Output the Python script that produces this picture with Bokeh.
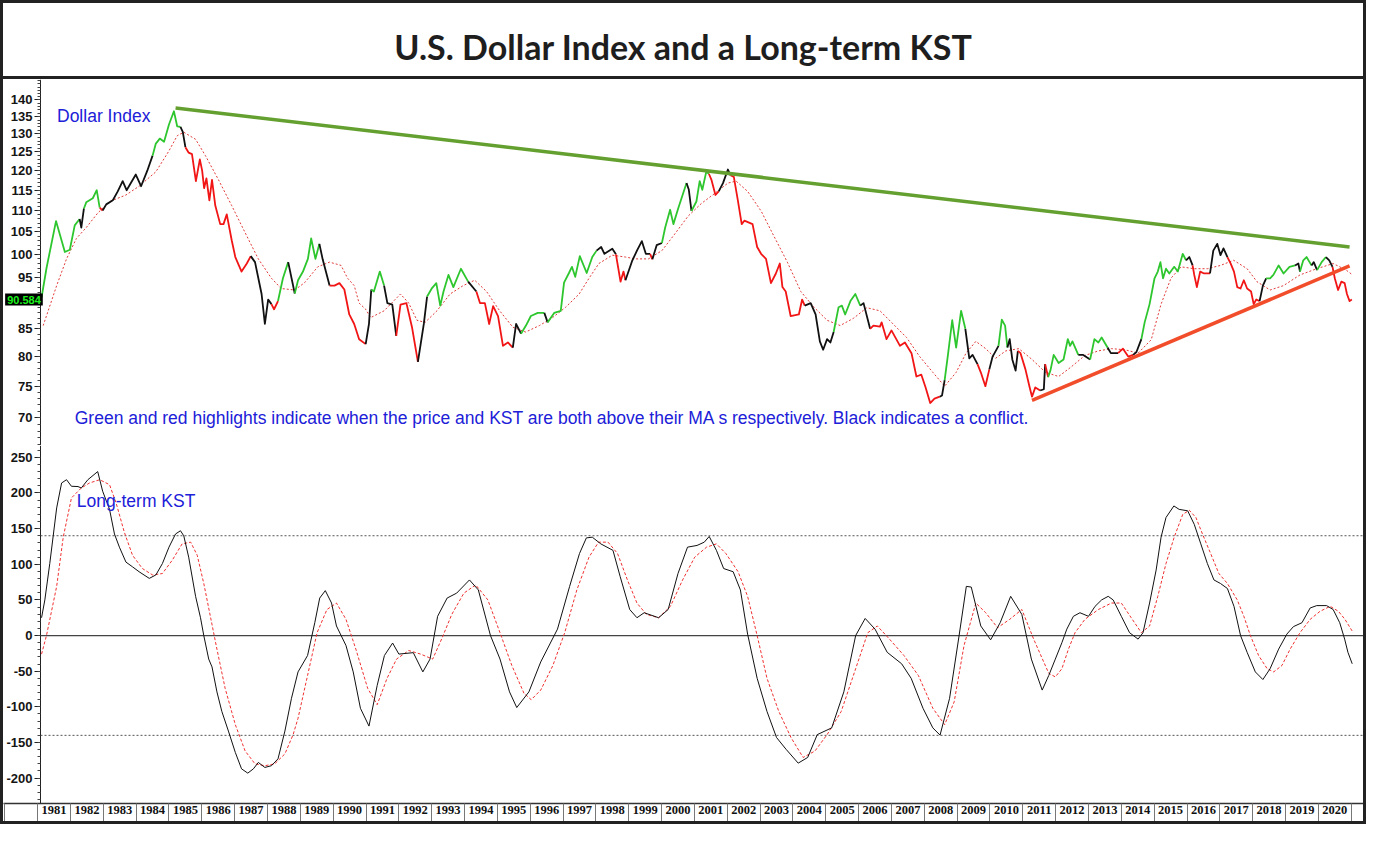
from bokeh.plotting import figure
from bokeh.layouts import column
from bokeh.models import (Range1d, FixedTicker, PrintfTickFormatter, Label,
                          ColumnDataSource)
from bokeh.embed import file_html
from bokeh.resources import INLINE

# ---------------- data ----------------
usd_t = [1981.12, 1981.27, 1981.56, 1981.83, 1981.98, 1982.13, 1982.28, 1982.33, 1982.41, 1982.48,
         1982.68, 1982.80, 1982.89, 1982.98, 1983.09, 1983.29, 1983.44, 1983.59, 1983.71, 1983.99,
         1984.15, 1984.34, 1984.50, 1984.60, 1984.72, 1984.85, 1985.00, 1985.15, 1985.25, 1985.35,
         1985.42, 1985.50, 1985.60, 1985.70, 1985.82, 1985.94, 1986.01, 1986.07, 1986.14, 1986.23,
         1986.31, 1986.41, 1986.56, 1986.66, 1986.76, 1986.91, 1987.02, 1987.21, 1987.37, 1987.49,
         1987.62, 1987.82, 1987.92, 1988.02, 1988.12, 1988.20, 1988.32, 1988.47, 1988.63, 1988.83,
         1988.93, 1989.08, 1989.23, 1989.33, 1989.46, 1989.58, 1989.68, 1989.89, 1990.04, 1990.19,
         1990.34, 1990.49, 1990.64, 1990.79, 1990.99, 1991.09, 1991.16, 1991.24, 1991.42, 1991.55,
         1991.65, 1991.80, 1991.92, 1992.05, 1992.23, 1992.40, 1992.58, 1992.76, 1992.86, 1993.01,
         1993.14, 1993.26, 1993.36, 1993.51, 1993.66, 1993.89, 1994.11, 1994.36, 1994.47, 1994.62,
         1994.75, 1994.87, 1995.02, 1995.17, 1995.32, 1995.47, 1995.57, 1995.72, 1995.87, 1996.02,
         1996.23, 1996.43, 1996.53, 1996.73, 1996.93, 1997.03, 1997.18, 1997.27, 1997.37, 1997.51,
         1997.72, 1997.89, 1998.02, 1998.16, 1998.26, 1998.50, 1998.61, 1998.75, 1998.84, 1998.90,
         1999.10, 1999.25, 1999.40, 1999.52, 1999.65, 1999.72, 1999.85, 2000.01, 2000.11, 2000.26,
         2000.36, 2000.51, 2000.76, 2000.83, 2000.91, 2001.06, 2001.16, 2001.24, 2001.36, 2001.44,
         2001.52, 2001.64, 2001.74, 2001.87, 2002.02, 2002.10, 2002.20, 2002.32, 2002.44, 2002.52,
         2002.77, 2002.91, 2003.03, 2003.18, 2003.33, 2003.48, 2003.60, 2003.68, 2003.78, 2003.93,
         2004.18, 2004.28, 2004.36, 2004.54, 2004.69, 2004.82, 2004.92, 2005.04, 2005.14, 2005.24,
         2005.39, 2005.49, 2005.59, 2005.75, 2005.90, 2006.05, 2006.15, 2006.35, 2006.45, 2006.65,
         2006.70, 2006.85, 2007.00, 2007.26, 2007.41, 2007.61, 2007.76, 2007.91, 2008.04, 2008.18,
         2008.31, 2008.47, 2008.54, 2008.62, 2008.72, 2008.85, 2008.97, 2009.12, 2009.25, 2009.37,
         2009.47, 2009.62, 2009.72, 2009.86, 2009.98, 2010.08, 2010.26, 2010.36, 2010.46, 2010.53,
         2010.60, 2010.68, 2010.78, 2010.85, 2010.93, 2011.08, 2011.20, 2011.28, 2011.38, 2011.53,
         2011.64, 2011.68, 2011.77, 2011.84, 2011.94, 2012.09, 2012.24, 2012.37, 2012.44, 2012.51,
         2012.69, 2012.84, 2013.05, 2013.18, 2013.30, 2013.40, 2013.58, 2013.68, 2013.90, 2014.05,
         2014.21, 2014.36, 2014.46, 2014.61, 2014.71, 2014.86, 2015.01, 2015.11, 2015.19, 2015.27,
         2015.36, 2015.46, 2015.61, 2015.72, 2015.87, 2015.97, 2016.07, 2016.17, 2016.22, 2016.30,
         2016.40, 2016.52, 2016.70, 2016.80, 2016.92, 2017.02, 2017.11, 2017.23, 2017.33, 2017.43,
         2017.53, 2017.63, 2017.73, 2017.83, 2017.95, 2018.03, 2018.11, 2018.21, 2018.31, 2018.41,
         2018.53, 2018.63, 2018.79, 2018.94, 2019.12, 2019.29, 2019.39, 2019.44, 2019.54, 2019.64,
         2019.79, 2019.86, 2019.96, 2020.10, 2020.23, 2020.33, 2020.43, 2020.50, 2020.60, 2020.70,
         2020.80, 2020.87, 2020.95, 2021.02]
usd_v = [91.0, 97.0, 107.5, 100.5, 101.0, 106.5, 108.0, 106.0, 110.5, 112.0,
         113.0, 115.0, 110.7, 110.0, 111.5, 112.5, 114.7, 117.3, 115.0, 119.0,
         116.0, 120.0, 124.0, 127.3, 128.7, 127.8, 132.7, 136.6, 132.2, 132.0,
         130.6, 126.3, 124.8, 124.4, 117.3, 123.0, 120.0, 115.5, 118.0, 112.5,
         117.6, 111.2, 106.8, 106.8, 109.1, 103.1, 99.4, 96.3, 98.0, 99.6,
         98.3, 91.7, 85.9, 90.6, 89.7, 88.7, 90.3, 94.9, 98.3, 91.8,
         94.5, 96.3, 99.0, 103.5, 99.0, 102.3, 98.9, 93.4, 93.4, 93.9,
         92.6, 87.7, 85.9, 83.1, 82.2, 85.9, 92.6, 92.2, 96.3, 93.4,
         89.9, 89.6, 83.7, 89.6, 89.9, 85.3, 79.1, 85.9, 91.2, 92.9,
         93.9, 89.4, 92.2, 95.6, 93.1, 96.9, 94.2, 92.2, 89.9, 89.9,
         85.9, 89.3, 87.4, 81.9, 82.5, 81.6, 85.9, 84.1, 85.6, 87.4,
         88.0, 88.0, 86.2, 88.0, 88.4, 94.0, 96.0, 97.3, 95.2, 99.6,
         96.0, 99.4, 100.8, 101.6, 100.1, 101.2, 100.0, 94.2, 96.3, 94.5,
         98.5, 100.8, 102.9, 100.1, 100.1, 98.9, 102.0, 102.5, 106.0, 110.2,
         106.8, 110.6, 116.8, 115.1, 109.9, 112.2, 117.3, 115.1, 119.7, 119.2,
         117.6, 113.8, 114.7, 116.8, 120.3, 118.8, 118.4, 112.6, 106.8, 107.6,
         106.8, 101.6, 100.1, 99.0, 93.9, 95.9, 98.0, 93.1, 92.2, 87.4,
         87.7, 90.6, 89.4, 89.9, 87.7, 82.7, 81.2, 83.1, 82.5, 84.4,
         89.1, 89.4, 87.7, 90.3, 91.7, 89.4, 89.9, 85.0, 85.6, 85.4,
         86.2, 83.1, 84.7, 81.9, 82.5, 80.6, 76.6, 76.9, 74.8, 72.3,
         73.0, 73.3, 73.5, 76.0, 80.3, 86.6, 81.6, 88.4, 85.0, 79.7,
         80.3, 78.7, 77.3, 75.0, 77.8, 80.0, 81.9, 86.7, 85.6, 81.6,
         83.1, 79.5, 77.6, 81.0, 80.6, 77.8, 75.0, 73.3, 74.8, 74.3,
         74.5, 78.7, 76.5, 77.6, 80.3, 78.9, 79.5, 83.1, 81.9, 82.7,
         80.3, 80.3, 79.5, 83.1, 82.5, 83.4, 81.6, 80.6, 80.6, 81.4,
         80.0, 80.3, 80.8, 83.1, 86.2, 89.7, 94.9, 96.3, 98.3, 94.9,
         96.9, 95.9, 97.3, 96.3, 100.1, 98.7, 99.4, 97.6, 95.6, 93.1,
         96.3, 95.9, 95.9, 100.8, 102.3, 99.8, 101.3, 99.4, 98.0, 96.3,
         93.1, 92.8, 94.5, 92.8, 92.2, 89.7, 90.6, 90.3, 93.4, 94.9,
         94.9, 95.6, 97.6, 95.9, 97.3, 97.6, 98.0, 96.3, 98.7, 99.4,
         97.6, 98.3, 96.6, 98.3, 99.4, 98.7, 97.3, 94.9, 92.5, 94.2,
         93.9, 91.7, 90.3, 90.6]
# state of the segment ending at each point:
# g = price and KST both above their MAs, r = both below, k = conflict
usd_state = list(
    "gggggggkkg" "gggrkkkkkk" "kkkggggggg" "kkrrrrrrrr" "rrrrrrrrrr"
    "kkkkkrrggk" "ggggggkkrr" "rrrrrkkggg" "kkkrrrrkkg" "gggggggkrr"
    "rrrrrrkkgg" "ggkggggggg" "gggkkkkrrr" "kkkkkrkkgg" "gggkkggggg"
    "rrrkkkrrrr" "rrrrrrrrrr" "rrrkkkkkkk" "ggggggkkrr" "rrrrrrrrrr"
    "rrkkgggggk" "kkrrrkkggg" "kkkkrrrrrr" "kkrggggggg" "gkkggggkkr"
    "rrkkgggggg" "ggggggkkrr" "rrrkkkkkrr" "rrrrrrrrkk" "ggggggkkgg"
    "gkkggkkrrr" "rrrr")
usd_last = 90.584

usd_ma_t = [1981.17, 1981.58, 1981.88, 1982.18, 1982.48, 1982.83, 1983.19, 1983.69, 1984.09, 1984.60,
            1985.00, 1985.25, 1985.45, 1985.81, 1986.11, 1986.51, 1986.91, 1987.32, 1987.72, 1988.12,
            1988.42, 1988.83, 1989.13, 1989.53, 1989.89, 1990.24, 1990.44, 1990.64, 1990.79, 1990.99,
            1991.14, 1991.55, 1992.05, 1992.30, 1992.55, 1992.80, 1993.16, 1993.56, 1993.96, 1994.31,
            1994.67, 1995.07, 1995.47, 1995.86, 1996.28, 1996.68, 1997.08, 1997.49, 1997.79, 1998.09,
            1998.50, 1998.90, 1999.20, 1999.60, 2000.01, 2000.41, 2000.81, 2001.21, 2001.62, 2002.02,
            2002.27, 2002.62, 2003.03, 2003.43, 2003.83, 2004.24, 2004.64, 2005.04, 2005.44, 2005.85,
            2006.25, 2006.65, 2007.05, 2007.46, 2007.86, 2008.26, 2008.62, 2008.97, 2009.27, 2009.57,
            2009.87, 2010.17, 2010.48, 2010.88, 2011.28, 2011.69, 2012.09, 2012.49, 2012.89, 2013.30,
            2013.70, 2014.11, 2014.51, 2014.91, 2015.21, 2015.51, 2015.82, 2016.22, 2016.62, 2017.02,
            2017.42, 2017.83, 2018.13, 2018.53, 2018.94, 2019.44, 2019.95, 2020.45, 2020.85, 2021.04]
usd_ma_v = [85.6, 93.4, 99.0, 103.5, 106.0, 109.4, 112.2, 113.8, 116.0, 119.7,
            125.3, 129.5, 130.5, 128.5, 124.0, 117.6, 111.2, 104.8, 99.0, 94.9,
            92.8, 92.5, 94.0, 97.3, 98.3, 97.6, 94.9, 93.4, 89.9, 88.7,
            87.1, 88.4, 91.7, 89.9, 86.6, 86.2, 88.4, 91.7, 93.4, 94.5,
            92.2, 88.4, 85.3, 84.4, 85.6, 87.1, 89.1, 91.7, 94.9, 98.0,
            99.8, 99.4, 99.0, 99.0, 100.8, 104.6, 108.7, 111.7, 114.2, 116.8,
            117.3, 114.7, 109.9, 103.9, 98.3, 92.2, 89.1, 86.6, 85.6, 87.0,
            89.0, 88.4, 85.9, 83.4, 80.0, 77.3, 75.0, 77.3, 80.6, 82.7,
            81.4, 79.7, 81.0, 81.4, 79.5, 77.3, 76.6, 78.3, 80.2, 81.0,
            81.4, 81.2, 80.6, 83.0, 89.7, 94.9, 97.3, 96.9, 96.9, 97.6,
            98.7, 96.9, 94.2, 92.5, 93.4, 95.6, 96.9, 98.0, 96.6, 95.6]

resistance_t = [1985.20, 2020.95]
resistance_v = [137.6, 101.6]
support_t = [2011.28, 2020.95]
support_v = [72.7, 97.5]

kst_t = [1981.12, 1981.22, 1981.37, 1981.58, 1981.73, 1981.88, 1982.03, 1982.23, 1982.33, 1982.53,
         1982.83, 1982.98, 1983.19, 1983.34, 1983.49, 1983.69, 1983.89, 1984.09, 1984.40, 1984.60,
         1984.80, 1985.00, 1985.20, 1985.35, 1985.45, 1985.60, 1985.81, 1985.96, 1986.06, 1986.21,
         1986.31, 1986.46, 1986.61, 1986.81, 1987.02, 1987.21, 1987.40, 1987.57, 1987.72, 1987.92,
         1988.12, 1988.32, 1988.53, 1988.73, 1988.93, 1989.22, 1989.44, 1989.59, 1989.76, 1989.95,
         1990.10, 1990.39, 1990.61, 1990.83, 1991.09, 1991.34, 1991.56, 1991.81, 1992.00, 1992.44,
         1992.73, 1992.95, 1993.18, 1993.47, 1993.76, 1994.15, 1994.42, 1994.79, 1995.08, 1995.37,
         1995.59, 1995.96, 1996.32, 1996.83, 1997.20, 1997.50, 1997.71, 1997.89, 1998.15, 1998.52,
         1998.74, 1999.03, 1999.25, 1999.47, 1999.91, 2000.20, 2000.50, 2000.79, 2001.08, 2001.30,
         2001.45, 2001.67, 2001.89, 2002.18, 2002.40, 2002.62, 2002.91, 2003.21, 2003.50, 2003.79,
         2004.16, 2004.45, 2004.74, 2005.18, 2005.55, 2005.91, 2006.20, 2006.50, 2006.87, 2007.31,
         2007.60, 2007.96, 2008.26, 2008.48, 2008.77, 2009.06, 2009.28, 2009.43, 2009.72, 2010.02,
         2010.31, 2010.63, 2010.97, 2011.26, 2011.59, 2011.79, 2011.99, 2012.19, 2012.34, 2012.54,
         2012.74, 2013.00, 2013.20, 2013.40, 2013.60, 2013.75, 2014.00, 2014.25, 2014.51, 2014.66,
         2014.86, 2015.06, 2015.21, 2015.36, 2015.60, 2015.76, 2016.02, 2016.22, 2016.42, 2016.62,
         2016.82, 2017.02, 2017.23, 2017.43, 2017.63, 2017.83, 2018.08, 2018.31, 2018.53, 2018.79,
         2019.04, 2019.24, 2019.50, 2019.75, 2019.95, 2020.25, 2020.45, 2020.65, 2020.80, 2020.90,
         2021.03]
kst_v = [25, 50, 101, 179, 214, 218.6, 209.4, 209, 207, 218.6,
         230, 202.5, 177, 142.5, 124, 103, 96.4, 89.5, 80.2, 85,
         101, 124, 142.5, 147, 140, 110, 55, 25, 0, -33,
         -44, -79, -106.5, -134, -164, -187, -193, -187, -178, -185,
         -182.6, -173, -134, -88, -51, -28, 18, 52.6, 63, 45.6,
         13.4, -14, -51, -102, -127, -70, -28, -10.5, -26, -24,
         -51, -33, 27, 52.6, 59.5, 78, 64, 0, -33, -79,
         -101, -79, -37, 9, 69, 115, 137, 138, 128.6, 119.5,
         82.6, 36.5, 25, 32, 25, 36.5, 87, 124, 126.4, 131,
         139, 119.5, 94, 89.5, 64, 2, -60, -106.5, -143, -159.5,
         -179, -171, -139, -129.5, -79, 0, 24, 9, -23.5, -39.6,
         -60, -102, -129.5, -139.7, -88, 0, 69, 68, 13.4, -6,
         18, 55, 29.6, -33, -76.5, -56, -33, -10, 9, 27,
         32, 27, 41, 50, 55, 50, 27, 4, -5, 4,
         45.6, 92, 138, 165.6, 181.8, 177, 175, 156, 128.6, 101,
         78, 73, 66, 41, 0, -23.5, -51, -61.7, -46.5, -19,
         2, 12.5, 18, 38.7, 42, 42, 36.5, 18, -5, -23.5,
         -39.6]

kst_ma_t = [1981.12, 1981.27, 1981.58, 1981.78, 1982.03, 1982.33, 1982.58, 1982.89, 1983.19, 1983.39,
            1983.64, 1983.89, 1984.19, 1984.50, 1984.80, 1985.10, 1985.40, 1985.66, 1985.86, 1986.06,
            1986.26, 1986.46, 1986.71, 1987.02, 1987.32, 1987.62, 1987.92, 1988.22, 1988.53, 1988.78,
            1988.93, 1989.22, 1989.51, 1989.81, 1990.10, 1990.39, 1990.69, 1991.05, 1991.34, 1991.64,
            1991.93, 1992.30, 1992.66, 1993.03, 1993.32, 1993.61, 1993.98, 1994.34, 1994.71, 1995.08,
            1995.44, 1995.81, 1996.03, 1996.32, 1996.69, 1997.05, 1997.42, 1997.79, 1998.08, 1998.37,
            1998.66, 1998.96, 1999.25, 1999.54, 1999.91, 2000.27, 2000.64, 2001.01, 2001.37, 2001.67,
            2001.96, 2002.33, 2002.62, 2002.91, 2003.21, 2003.57, 2003.94, 2004.31, 2004.67, 2005.04,
            2005.47, 2005.91, 2006.28, 2006.57, 2006.94, 2007.38, 2007.82, 2008.26, 2008.62, 2008.91,
            2009.21, 2009.57, 2009.87, 2010.23, 2010.60, 2010.97, 2011.33, 2011.79, 2011.99, 2012.19,
            2012.39, 2012.59, 2012.89, 2013.30, 2013.70, 2014.00, 2014.30, 2014.61, 2014.86, 2015.11,
            2015.36, 2015.61, 2015.87, 2016.07, 2016.27, 2016.47, 2016.72, 2016.97, 2017.23, 2017.53,
            2017.73, 2017.93, 2018.18, 2018.44, 2018.64, 2018.89, 2019.14, 2019.44, 2019.75, 2020.05,
            2020.36, 2020.61, 2020.81, 2021.06]
kst_ma_v = [-26, 0, 69, 138, 193, 207, 214, 218.6, 211.6, 186,
            145, 112.6, 94, 85, 87, 105.7, 128.6, 131, 112.6, 73,
            27, -19, -74, -125, -162, -180, -182.6, -180, -166, -139,
            -116, -56, 4, 36.5, 45.6, 22.7, -19, -74, -97, -60,
            -33, -21, -26, -33, -3, 29.6, 59.5, 71, 50, 4,
            -42, -81, -90, -76.5, -42, 4, 64, 110, 131, 131,
            115, 78, 45.6, 29.6, 25, 41, 78, 110, 124, 128.6,
            115, 89.5, 55, 0, -60, -106.5, -143, -171, -162, -139,
            -106.5, -46.5, 4, 13.4, -5, -28, -56, -102, -125, -93,
            -14, 45.6, 32, 11, 22.7, 36.5, -5, -53, -58, -46.5,
            -19, 4, 22.7, 36.5, 45.6, 45.6, 25, 4, 13.4, 55,
            101, 138, 170, 175.7, 165.6, 142.5, 115, 87, 73, 50,
            27, 0, -28, -46.5, -51, -42, -19, 4, 22.7, 34,
            41, 34, 22.7, 4]

kst_bands = [140, -140]
year_labels = list(range(1981, 2021))
usd_ticks = [70, 75, 80, 85, 95, 100, 105, 110, 115, 120, 125, 130, 135, 140]
kst_ticks = [-200, -150, -100, -50, 0, 50, 100, 150, 200, 250]

# ---------------- styling / layout constants ----------------
W = 1360
AX_FONT = "Liberation Sans"
BLUE = "#2020d8"
COLORS = {"g": "#2ec62e", "r": "#f21515", "k": "#111111"}

X0, X1 = 1981.088, 2021.374          # chart start / end (axis position at X0)
PAD = 1.127                          # room for the value axis, in years
x_range = Range1d(X0 - PAD, X1)


def style_yaxis(ax, ticks, minor):
    ax.fixed_location = X0
    ax.ticker = FixedTicker(ticks=ticks, minor_ticks=minor)
    ax.formatter = PrintfTickFormatter(format="%d")
    ax.major_label_text_font = AX_FONT
    ax.major_label_text_font_style = "bold"
    ax.major_label_text_font_size = "13px"
    ax.major_label_text_color = "#151515"
    ax.major_label_standoff = 2
    ax.major_tick_out = 6
    ax.major_tick_in = 0
    ax.minor_tick_out = 3
    ax.minor_tick_in = 0
    ax.axis_line_color = "#222222"
    ax.major_tick_line_color = "#222222"
    ax.minor_tick_line_color = "#444444"


# ---------------- title ----------------
tfig = figure(width=W, height=76, x_range=(0, 1), y_range=(0, 1),
              x_axis_location=None, y_axis_location=None,
              toolbar_location=None, output_backend="svg", min_border=0,
              styles={"border-bottom": "3px solid #222222"})
tfig.grid.visible = False
tfig.outline_line_color = None
tfig.add_layout(Label(x=0.5, y=0.44, text="U.S. Dollar Index and a Long-term KST",
                      text_align="center", text_baseline="middle",
                      text_font="Lato", text_font_style="bold",
                      text_font_size="34px", text_color="#1e1e1e"))

# ---------------- upper panel: Dollar index (log scale) ----------------
p1 = figure(width=W, height=366, x_range=x_range, y_range=Range1d(65.9, 146.4),
            y_axis_type="log", x_axis_location=None,
            toolbar_location=None, output_backend="svg",
            min_border_left=0, min_border_right=0, min_border_top=0, min_border_bottom=0)
p1.grid.visible = False
p1.outline_line_color = None
style_yaxis(p1.yaxis[0], usd_ticks, list(range(66, 147)))

runs = []
cur = None
for i in range(1, len(usd_t)):
    c = usd_state[i]
    if c != cur:
        runs.append([c, [usd_t[i - 1]], [usd_v[i - 1]]])
        cur = c
    runs[-1][1].append(usd_t[i])
    runs[-1][2].append(usd_v[i])
src = ColumnDataSource(dict(xs=[r[1] for r in runs], ys=[r[2] for r in runs],
                            color=[COLORS[r[0]] for r in runs]))
p1.line(usd_ma_t, usd_ma_v, line_color="#e23a3a", line_width=1, line_dash="2 2")
p1.multi_line("xs", "ys", source=src, line_color="color", line_width=1.8, line_join="round")
p1.line(resistance_t, resistance_v, line_color="#64a030", line_width=3.5)
p1.line(support_t, support_v, line_color="#f24d2b", line_width=3.5)

p1.add_layout(Label(x=1981.59, y=135.3, text="Dollar Index", text_font=AX_FONT,
                    text_font_size="17.5px", text_color=BLUE, text_baseline="middle"))
p1.add_layout(Label(x=1982.13, y=70.0,
                    text="Green and red highlights indicate when the price and KST are both above "
                         "their MA s respectively. Black indicates a conflict.",
                    text_font=AX_FONT, text_font_size="17.5px", text_color=BLUE,
                    text_baseline="middle"))
p1.add_layout(Label(x=X0 - PAD + 0.05, y=usd_last, text="90.584",
                    text_font=AX_FONT, text_font_size="11px", text_font_style="bold",
                    text_color="#1cf01c", text_baseline="middle",
                    background_fill_color="#000000", padding=2))

# ---------------- lower panel: KST ----------------
p2 = figure(width=W, height=376, x_range=x_range, y_range=Range1d(-235.6, 266.6),
            toolbar_location=None, output_backend="svg",
            min_border_left=0, min_border_right=0, min_border_top=0, min_border_bottom=18)
p2.grid.visible = False
p2.outline_line_color = None
style_yaxis(p2.yaxis[0], kst_ticks, list(range(-230, 261, 10)))

xa = p2.xaxis[0]
xa.ticker = FixedTicker(ticks=[y + 0.5 for y in year_labels],
                        minor_ticks=[X0 - PAD + 0.02] + year_labels + [year_labels[-1] + 1])
xa.formatter = PrintfTickFormatter(format="%d")
xa.major_tick_out = 0
xa.major_tick_in = 0
xa.minor_tick_out = 18
xa.minor_tick_in = 0
xa.minor_tick_line_color = "#777777"
xa.axis_line_color = "#333333"
xa.axis_line_width = 1.5
xa.major_label_text_font = "Liberation Serif"
xa.major_label_text_font_style = "bold"
xa.major_label_text_font_size = "12.5px"
xa.major_label_text_color = "#111111"
xa.major_label_standoff = -16

for lvl in kst_bands:
    p2.line([X0, X1], [lvl, lvl], line_color="#555555", line_width=1, line_dash="2 2")
p2.line([X0, X1], [0, 0], line_color="#444444", line_width=1.2)

p2.line(kst_ma_t, kst_ma_v, line_color="#f03030", line_width=1, line_dash="3 2")
p2.line(kst_t, kst_v, line_color="#111111", line_width=1)
p2.add_layout(Label(x=1982.19, y=189, text="Long-term KST", text_font=AX_FONT,
                    text_font_size="17.5px", text_color=BLUE, text_baseline="middle"))

layout = column(tfig, p1, p2, styles={"border": "3px solid #222222"})

open("out.html", "w").write(file_html(layout, INLINE))
